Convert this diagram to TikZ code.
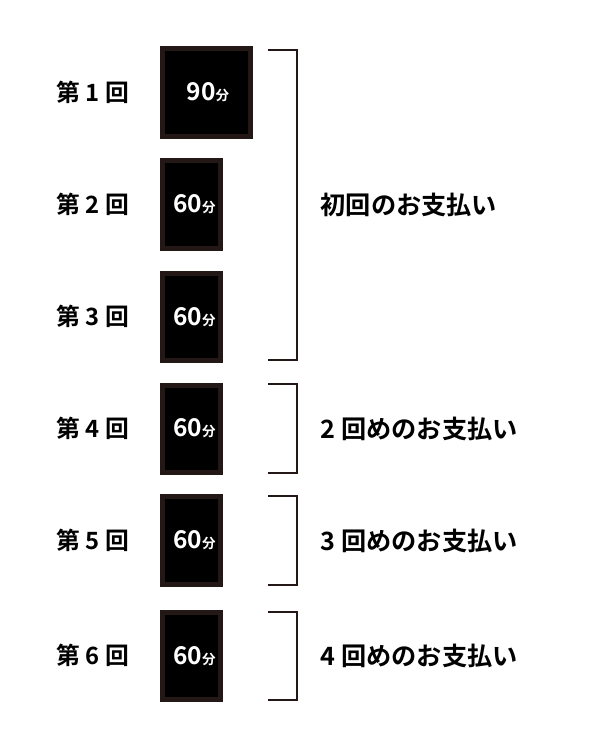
\documentclass[tikz,border=0pt]{standalone}
\usepackage{fontspec}
\newfontfamily\jp{Noto Sans CJK JP}[BoldFont={Noto Sans CJK JP Bold}]
\definecolor{frame}{HTML}{231815}
\begin{document}
\begin{tikzpicture}[x=1pt,y=-1pt,
  slot/.style={draw=frame,fill=black,line width=5pt},
  rnd/.style={anchor=west,font=\jp\bfseries\fontsize{23.8}{25}\selectfont,inner sep=0pt},
  pay/.style={anchor=west,font=\jp\bfseries\fontsize{25.2}{27}\selectfont,inner sep=0pt},
  mins/.style={text=white,font=\jp\bfseries\fontsize{24.5}{26}\selectfont,inner sep=0pt},
  brk/.style={draw=frame,line width=2pt}]
\useasboundingbox[fill=white] (0,0) rectangle (597,755);
% boxes
\path[slot] (162.5,48.5) rectangle (250.5,136.5);
\coordinate (b1) at (206.5,92.5);
\path[slot] (162.5,160.5) rectangle (220.5,248);
\coordinate (b2) at (191.5,204.2);
\path[slot] (162.5,273) rectangle (220.5,360.5);
\coordinate (b3) at (191.5,316.7);
\path[slot] (162.5,385) rectangle (220.5,472);
\coordinate (b4) at (191.5,428.5);
\path[slot] (162.5,496.5) rectangle (220.5,584);
\coordinate (b5) at (191.5,540.2);
\path[slot] (162.5,612) rectangle (220.5,699.5);
\coordinate (b6) at (191.5,655.7);
\node[mins] (m1) at ([xshift=1.5pt]b1) {90{\fontsize{13.5}{13.5}\selectfont 分}};
\node[mins] (m2) at ([xshift=3pt]b2) {60{\fontsize{13.5}{13.5}\selectfont 分}};
\node[mins] (m3) at ([xshift=3pt]b3) {60{\fontsize{13.5}{13.5}\selectfont 分}};
\node[mins] (m4) at ([xshift=3pt]b4) {60{\fontsize{13.5}{13.5}\selectfont 分}};
\node[mins] (m5) at ([xshift=3pt]b5) {60{\fontsize{13.5}{13.5}\selectfont 分}};
\node[mins] (m6) at ([xshift=3pt]b6) {60{\fontsize{13.5}{13.5}\selectfont 分}};
% round labels
\node[rnd] (r1) at (56.5,92.5) {第 1 回};
\node[rnd] (r2) at (56.5,204.2) {第 2 回};
\node[rnd] (r3) at (56.5,316.7) {第 3 回};
\node[rnd] (r4) at (56.5,428.5) {第 4 回};
\node[rnd] (r5) at (56.5,540.2) {第 5 回};
\node[rnd] (r6) at (56.5,655.7) {第 6 回};
% brackets
\coordinate (k1a) at (268,50); \coordinate (k1b) at (268,360);
\coordinate (k4a) at (268,384); \coordinate (k4b) at (268,473);
\coordinate (k5a) at (268,496); \coordinate (k5b) at (268,585);
\coordinate (k6a) at (268,612); \coordinate (k6b) at (268,700);
\draw[brk] (k1a) -| (296.7,360) -- (k1b);
\draw[brk] (k4a) -| (296.7,473) -- (k4b);
\draw[brk] (k5a) -| (296.7,585) -- (k5b);
\draw[brk] (k6a) -| (296.7,700) -- (k6b);
% payment labels
\node[pay] (p1) at (320.5,205) {初回のお支払い};
\node[pay] (p2) at (320.5,428.5) {2 回めのお支払い};
\node[pay] (p3) at (320.5,540.5) {3 回めのお支払い};
\node[pay] (p4) at (320.5,656) {4 回めのお支払い};
\end{tikzpicture}
\end{document}
